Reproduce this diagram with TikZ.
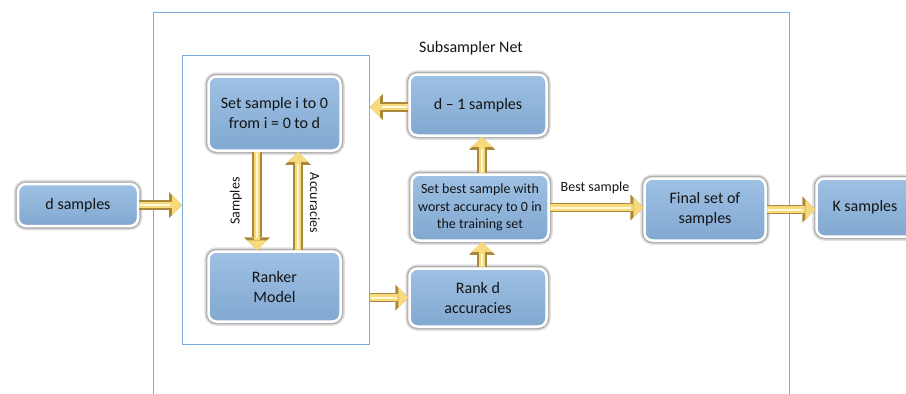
\documentclass[tikz,border=0pt]{standalone}
\usepackage{fontspec}
\setmainfont{Carlito}
\usetikzlibrary{arrows.meta,calc}
\definecolor{boxtop}{RGB}{158,193,228}
\definecolor{boxbot}{RGB}{130,168,208}
\definecolor{framec}{RGB}{125,172,222}
\definecolor{arrfill}{RGB}{247,218,125}
\definecolor{arredge}{RGB}{170,136,58}
\definecolor{arrhi}{RGB}{255,248,215}
\begin{document}
\begin{tikzpicture}[x=1pt,y=1pt,
  box/.style={rectangle, rounded corners=8pt, draw=white, line width=2.5pt,
    top color=boxtop, bottom color=boxbot, text=black!92, align=center,
    inner sep=1pt, font=\fontsize{16}{20}\selectfont,
    preaction={draw=black!12, line width=8.5pt},
    preaction={draw=black!30, line width=5.5pt}},
  frame/.style={rectangle, draw=framec, line width=0.8pt, inner sep=0pt},
  lbl/.style={font=\fontsize{14}{17}\selectfont, text=black!92, inner sep=1pt},
  barrow/.style={draw=arrfill, line width=6.5pt,
    -{Triangle[width=21pt,length=10pt,line width=0pt]},
    preaction={draw=arredge, line width=9.5pt, -{Triangle[width=26pt,length=13pt,line width=0pt]}},
    postaction={draw=arrhi, line width=2pt, -, shorten >=12pt, shorten <=1pt}}
]
\useasboundingbox (0,0) rectangle (906,-394);

% frames
\node[frame, minimum width=636, minimum height=400, anchor=north west] (outer) at (153,-12) {};
\node[frame, minimum width=187, minimum height=289, anchor=north west] (inner) at (182,-55) {};
\node[font=\fontsize{16}{19}\selectfont, text=black!92] (title) at (471,-48) {Subsampler Net};

% boxes
\node[box, minimum width=120, minimum height=42] (dsamp) at (78,-205) {d samples};
\node[box, minimum width=132, minimum height=74] (setS) at (274.5,-113.5) {Set sample i to 0\\from i = 0 to d};
\node[box, minimum width=132, minimum height=70] (ranker) at (274.5,-286.5) {Ranker\\Model};
\node[box, minimum width=137, minimum height=61] (dm1) at (478,-105) {d – 1 samples};
\node[box, minimum width=137, minimum height=66, font=\fontsize{14}{17.5}\selectfont] (best) at (480,-207.5) {Set best sample with\\worst accuracy to 0 in\\the training set};
\node[box, minimum width=137, minimum height=58] (rankd) at (478,-297.5) {Rank d\\accuracies};
\node[box, minimum width=121, minimum height=62] (final) at (705,-209.5) {Final set of\\samples};
\node[box, minimum width=97, minimum height=58] (ksamp) at (865,-207.5) {K samples};

% arrows
\draw[barrow] (dsamp.east) -- (dsamp.east -| inner.west);
\draw[barrow] ([xshift=-17.5pt]setS.south) -- ([xshift=-17.5pt]ranker.north);
\draw[barrow] ([xshift=23.5pt]ranker.north) -- ([xshift=23.5pt]setS.south);
\draw[barrow] (inner.east |- rankd.west) -- (rankd.west);
\draw[barrow] ([xshift=4pt]rankd.north) -- ([xshift=4pt]rankd.north |- best.south);
\draw[barrow] ([xshift=2pt]best.north) -- ([xshift=2pt]best.north |- dm1.south);
\draw[barrow] ([yshift=-2pt]dm1.west) -- ([yshift=-2pt]dm1.west -| inner.east);
\draw[barrow] (best.east) -- (best.east -| final.west);
\draw[barrow] (final.east) -- (final.east -| ksamp.west);

% labels
\node[lbl, rotate=90] (lsamp) at (236,-201) {Samples};
\node[lbl, rotate=-90] (lacc) at (315,-203) {Accuracies};
\node[lbl] (lbest) at (595,-188) {Best sample};
\end{tikzpicture}
\end{document}
